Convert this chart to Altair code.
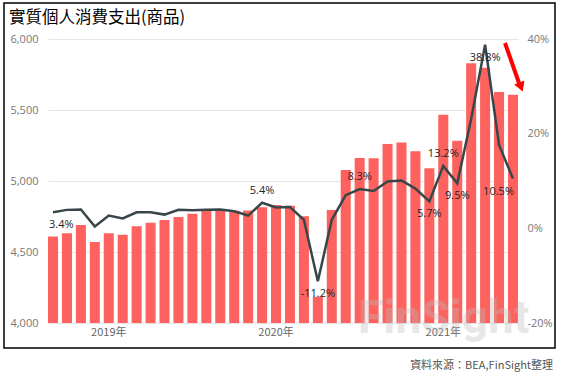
import altair as alt
import pandas as pd

months = ["2018-09", "2018-10", "2018-11", "2018-12",
          "2019-01", "2019-02", "2019-03", "2019-04", "2019-05", "2019-06",
          "2019-07", "2019-08", "2019-09", "2019-10", "2019-11", "2019-12",
          "2020-01", "2020-02", "2020-03", "2020-04", "2020-05", "2020-06",
          "2020-07", "2020-08", "2020-09", "2020-10", "2020-11", "2020-12",
          "2021-01", "2021-02", "2021-03", "2021-04", "2021-05", "2021-06"]
pce = [4610, 4632, 4690, 4570, 4632, 4622, 4681, 4706, 4725, 4746, 4770, 4793,
       4793, 4790, 4793, 4815, 4831, 4826, 4751, 4185, 4796, 5077, 5162, 5160,
       5261, 5272, 5209, 5089, 5467, 5284, 5829, 5798, 5627, 5608]
yoy = [3.4, 3.9, 4.0, 0.4, 2.7, 2.1, 3.4, 3.4, 2.9, 3.9, 3.8, 3.9, 4.0, 3.6,
       2.7, 5.4, 4.4, 4.5, 1.8, -11.2, 1.8, 7.0, 8.3, 7.9, 9.9, 10.1, 8.4, 5.7,
       13.2, 9.5, 23.1, 38.8, 17.6, 10.5]
labels_above = ["2019-12", "2020-07", "2021-01"]
labels_below = ["2020-04", "2020-12", "2021-02", "2021-04"]
label_first = ["2018-09"]
label_last = ["2021-06"]

title_text = "實質個人消費支出(商品)"
source_text = "資料來源：BEA,FinSight整理"
watermark_text = "FinSight"

df = pd.DataFrame({"month": months, "pce": pce, "yoy": yoy})
df["lbl"] = df["yoy"].map(lambda v: f"{v:.1f}%")
one = pd.DataFrame({"a": [0]})

CJK = "Noto Sans CJK TC"
NUM = "Open Sans"

x_enc = alt.X("month:O", sort=months, title=None,
              scale=alt.Scale(paddingInner=0.28, paddingOuter=0),
              axis=alt.Axis(labelExpr="substring(datum.value,5,7)=='01' ? substring(datum.value,0,4)+'年' : ''",
                            labelAngle=0, ticks=False, domain=False, labelOverlap=False,
                            labelFont=CJK, labelFontSize=11, labelColor="#666666",
                            labelPadding=3, grid=False))

base = alt.Chart(df)

bars = base.mark_bar(color="#FD625E", clip=True).encode(
    x=x_enc,
    y=alt.Y("pce:Q", title=None,
            scale=alt.Scale(domain=[4000, 6000], nice=False, zero=False),
            axis=alt.Axis(values=[4000, 4500, 5000, 5500, 6000],
                          labelExpr="format(datum.value, ',')",
                          orient="left", ticks=False, domain=False,
                          labelFont=NUM, labelFontSize=11, labelColor="#777777",
                          labelPadding=10, gridColor="#e6e6e6", gridWidth=1))
)

yscale = alt.Scale(domain=[-20, 40], nice=False, zero=False)
line = base.mark_line(color="#374649", strokeWidth=2.5).encode(
    x=alt.X("month:O", sort=months),
    y=alt.Y("yoy:Q", title=None, scale=yscale,
            axis=alt.Axis(values=[-20, 0, 20, 40], labelExpr="datum.value + '%'",
                          orient="right", ticks=False, domain=False, grid=False,
                          labelFont=NUM, labelFontSize=11, labelColor="#777777",
                          labelPadding=9))
)

def lab(sel, dy, align="center", dx=0):
    return base.transform_filter(
        alt.FieldOneOfPredicate(field="month", oneOf=sel)
    ).mark_text(font=NUM, fontSize=11, color="#252423", dy=dy, dx=dx, align=align).encode(
        x=alt.X("month:O", sort=months),
        y=alt.Y("yoy:Q", scale=yscale, axis=None),
        text="lbl:N")

ann = alt.Chart(one)
border = ann.mark_rect(fill=None, stroke="#000000", strokeWidth=1.5).encode(
    x=alt.value(-44), x2=alt.value(507), y=alt.value(-36), y2=alt.value(309))
title = ann.mark_text(text=title_text, font=CJK, fontSize=16.5, color="#000000",
                      align="left", baseline="middle").encode(
    x=alt.value(-39), y=alt.value(-21))
source = ann.mark_text(text=source_text, font=CJK, fontSize=11, color="#555555",
                       align="right", baseline="middle").encode(
    x=alt.value(505), y=alt.value(327))
watermark = ann.mark_text(text=watermark_text, font="Roboto", fontSize=46, fontWeight="bold",
                          color="#bbbbbb", opacity=0.35, align="left",
                          baseline="alphabetic").encode(
    x=alt.value(310), y=alt.value(294))
shaft = ann.mark_rule(color="#FF0000", strokeWidth=4).encode(
    x=alt.value(457), y=alt.value(4), x2=alt.value(471), y2=alt.value(44))
head = ann.mark_point(shape="triangle-down", filled=True, color="#FF0000",
                      opacity=1, size=120, angle=339).encode(
    x=alt.value(473), y=alt.value(48))

chart = alt.layer(
    bars, line,
    lab(labels_above, -12),
    lab(labels_below, 13),
    lab(label_first, 13, "left", -4),
    lab(label_last, 13, "right", 1),
    watermark, border, title, source, shaft, head,
).resolve_scale(y="independent").properties(
    width=470, height=284,
    autosize=alt.AutoSizeParams(type="none"),
    padding={"left": 48, "top": 39, "right": 44, "bottom": 54},
).configure_view(stroke=None)

chart.save("out.html", embed_options={"renderer": "svg", "actions": False})
